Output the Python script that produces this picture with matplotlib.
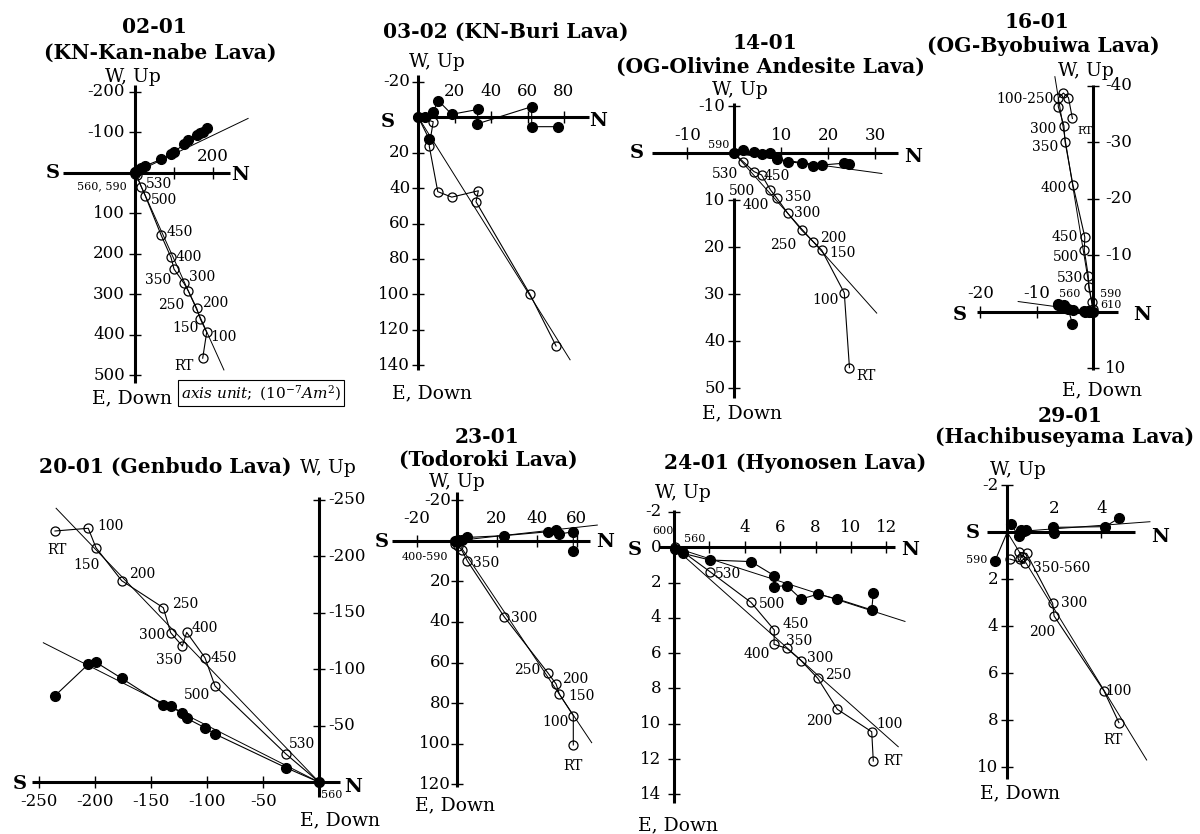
import matplotlib
matplotlib.use('Agg')
import matplotlib.pyplot as plt

plt.rcParams['font.family'] = 'DejaVu Serif'
plt.rcParams['mathtext.fontset'] = 'dejavuserif'

W, H = 1200, 834
PT = 0.72  # points per pixel at dpi 100

# ---------------- data (N component, vertical / horizontal component) ----------------
# 02-01 (KN-Kan-nabe Lava)
s0201_temps = ['RT', '100', '150', '200', '250', '300', '350', '400', '450', '500', '530', '560', '590']
s0201_n = [173.6, 183.8, 167.4, 158.2, 136.7, 125.6, 100, 92.3, 67.4, 26.4, 16.2, 4, 1]
s0201_down = [458, 394, 361, 335, 292, 273, 238, 209, 155, 57, 35, 6, 2]
s0201_east = [-101, -110, -97, -93, -80, -71, -50, -46, -33, -17, -11, -4, -1]
s0201_labels = ['RT', '100', '150', '200', '250', '300', '350', '400', '450', '500', '530', '560, 590', '']
s0201_fit_open = [228, 487]
s0201_fit_closed = [290, -134]

# 03-02 (KN-Buri Lava)
s0302_open_n = [75.7, 61.4, 31.7, 33.0, 18.4, 10.7, 6.0, 8.2, 0]
s0302_down = [129.2, 100.1, 47.7, 41.5, 45.1, 42.0, 16.2, 2.5, 0]
s0302_closed_n = [76.9, 62.3, 62.3, 32.1, 33.0, 18.4, 11.0, 8.2, 3.7, 0, 6.0]
s0302_east = [5.3, 5.3, -6.0, 3.8, -4.5, -1.7, -9.4, -3.2, -0.3, 0, 12.4]
s0302_fit_open = [83.4, 137]

# 14-01 (OG-Olivine Andesite Lava)
s1401_temps = ['RT', '100', '150', '200', '250', '300', '350', '400', '450', '500', '530', '590']
s1401_n = [24.5, 23.4, 18.6, 16.8, 14.3, 11.4, 9.1, 7.7, 5.8, 4.2, 1.9, 0]
s1401_down = [45.6, 29.7, 20.6, 18.8, 16.3, 12.8, 9.6, 7.8, 4.6, 3.9, 1.8, 0]
s1401_east = [2.3, 2.1, 2.5, 2.6, 2.1, 1.8, 1.3, -0.1, 0.15, -0.2, -0.7, 0]
s1401_fit_open = [30.3, 34]
s1401_fit_closed = [31.4, 4.3]

# 16-01 (OG-Byobuiwa Lava)
s1601_temps = ['RT', '100', '150', '200', '250', '300', '350', '400', '450', '500', '530', '560', '590', '610']
s1601_n = [-3.7, -4.4, -5.3, -6.2, -6.2, -5.2, -5.0, -3.6, -1.5, -1.6, -0.9, -0.8, -0.3, 0]
s1601_down = [-34.2, -37.9, -38.7, -37.8, -36.3, -32.9, -30.1, -22.4, -13.2, -10.9, -6.4, -4.3, -1.8, -0.5]
s1601_east = [2.2, -0.4, -0.9, -1.2, -1.3, -1.2, -0.9, -0.3, 0.0, -0.1, -0.1, 0.0, 0.0, 0.0]
s1601_labels = ['RT', '', '', '100-250', '', '300', '350', '400', '450', '500', '530', '560', '590', '610']
s1601_fit_open = [-6.8, -41.6]
s1601_fit_closed = [-13.3, -1.8]

# 20-01 (Genbudo Lava)
s2001_temps = ['RT', '100', '150', '200', '250', '300', '350', '400', '450', '500', '530', '560']
s2001_n = [-236, -206.3, -199.4, -176.4, -139.3, -132.7, -122.3, -118.4, -102.1, -93.1, -29.7, 0]
s2001_down = [-222.4, -224.8, -207.6, -178.4, -154.5, -132.4, -120.6, -132.7, -110.3, -85.2, -25.0, 0]
s2001_east = [-76.6, -104.4, -106.2, -92, -68.4, -67.5, -61.6, -56.6, -48.3, -42.7, -12.9, 0]
s2001_fit_open = [-235, -242.5]
s2001_fit_closed = [-246.4, -123.5]

# 23-01 (Todoroki Lava)
s2301_temps = ['RT', '100', '150', '200', '250', '300', '350', '400', '450', '500', '530', '560', '590']
s2301_n = [58.3, 58.3, 51.3, 49.7, 45.5, 23.7, 5.3, 2.5, 0.5, -1.0, -0.5, 0.0, 0.0]
s2301_down = [100.6, 86.2, 75.5, 70.6, 65.0, 37.4, 9.9, 4.6, 2.5, 1.5, 0.5, 0.3, 0.0]
s2301_east = [4.9, -4.4, -3.3, -5.3, -4.4, -2.5, -1.6, -0.5, -0.3, 0.2, 0.0, 0.0, 0.0]
s2301_labels = ['RT', '100', '150', '200', '250', '300', '350', '', '', '', '', '', '400-590']
s2301_fit_open = [67.5, 99.5]
s2301_fit_closed = [70.3, -7.7]

# 24-01 (Hyonosen Lava)
s2401_temps = ['RT', '100', '200', '250', '300', '350', '400', '450', '500', '530', '560', '600']
s2401_n = [11.26, 11.17, 9.23, 8.12, 7.18, 6.37, 5.65, 5.67, 4.35, 2.03, 0.49, 0.05]
s2401_down = [12.11, 10.45, 9.18, 7.42, 6.42, 5.72, 5.50, 4.69, 3.12, 1.38, 0.25, 0.0]
s2401_east = [2.61, 3.55, 2.93, 2.66, 2.93, 2.17, 2.23, 1.61, 0.81, 0.72, 0.34, 0.1]
s2401_fit_open = [12.67, 11.3]
s2401_fit_closed = [13.05, 4.2]

# 29-01 (Hachibuseyama Lava)
s2901_open_n = [4.75, 4.11, 1.99, 1.93, 0.82, 0.51, 0.61, 0.54, 0.75, 0.11]
s2901_down = [8.1, 6.74, 3.56, 3.02, 0.9, 0.85, 1.04, 1.15, 1.32, 1.14]
s2901_open_labels = ['RT', '100', '200', '300', '', '', '', '', '350-560', '']
s2901_closed_n = [4.75, 4.16, 1.96, 1.99, 0.8, 0.6, 0.7, 0.5, 0.14, -0.52]
s2901_east = [-0.6, -0.24, -0.21, 0.05, -0.09, -0.1, -0.05, 0.15, -0.34, 1.21]
s2901_closed_labels = ['', '', '', '', '', '', '', '', '', '590']
s2901_fit_open = [5.93, 9.69]
s2901_fit_closed = [6.07, -0.45]

# ---------------- layout (pixel positions) ----------------
panels = [
    dict(ox=135, oy=172.7, sx=0.39, sy=0.405, xlim=(-185, 244), yseg=[(-216, 519)],
         xticks=[100, 200], xticklabels=['', '200'], xdy=-16,
         yticks=[-200, -100, 100, 200, 300, 400, 500],
         yticklabels=['-200', '-100', '100', '200', '300', '400', '500'], ydx=-10,
         on=s0201_n, od=s0201_down, cn=s0201_n, ce=s0201_east,
         olab=s0201_labels,
         ooff=[(-19, 8), (17, 5), (-15, 9), (18, -5), (-17, 14), (18, -6), (-16, 11), (18, 0),
               (18, -3), (19, 4), (18, -3), (-35, 11), None],
         clab=None, coff=None, small_rt=False,
         fits=[s0201_fit_open, s0201_fit_closed]),
    dict(ox=418.3, oy=117.3, sx=1.82, sy=1.77, xlim=(-3, 94), yseg=[(-24, 143)],
         xticks=[20, 40, 60, 80], xticklabels=['20', '40', '60', '80'], xdy=-26,
         yticks=[-20, 20, 40, 60, 80, 100, 120, 140],
         yticklabels=['-20', '20', '40', '60', '80', '100', '120', '140'], ydx=-8,
         on=s0302_open_n, od=s0302_down, cn=s0302_closed_n, ce=s0302_east,
         olab=None, ooff=None, clab=None, coff=None, small_rt=False,
         fits=[s0302_fit_open]),
    dict(ox=734.3, oy=153.3, sx=4.7, sy=4.7, xlim=(-17.6, 34.8), yseg=[(-10.8, 0), (9.5, 52)],
         xticks=[-10, 10, 20, 30], xticklabels=['-10', '10', '20', '30'], xdy=-18,
         yticks=[-10, 10, 20, 30, 40, 50],
         yticklabels=['-10', '10', '20', '30', '40', '50'], ydx=-9,
         on=s1401_n, od=s1401_down, cn=s1401_n, ce=s1401_east,
         olab=s1401_temps,
         ooff=[(17, 8), (-19, 7), (21, 3), (20, -4), (-18, 15), (19, 0), (21, -1), (-15, 15),
               (15, 1), (-12, 19), (-18, 12), (-16, -8)],
         clab=None, coff=None, small_rt=False,
         fits=[s1401_fit_open, s1401_fit_closed]),
    dict(ox=1093.3, oy=311.7, sx=5.65, sy=5.65, xlim=(-20.6, 4.4), yseg=[(-40.1, 10.3)],
         xticks=[-20, -10], xticklabels=['-20', '-10'], xdy=-18,
         yticks=[-40, -30, -20, -10, 10],
         yticklabels=['-40', '-30', '-20', '-10', '10'], ydx=12,
         on=s1601_n, od=s1601_down, cn=s1601_n, ce=s1601_east,
         olab=s1601_labels,
         ooff=[(13, 13), None, None, (-5, 1), None, (-21, 3), (-20, 5), (-19, 3), (-20, 0),
               (-18, 7), (-18, 2), (-19, 7), (19, -8), (18, -4)],
         clab=None, coff=None, small_rt=True,
         fits=[s1601_fit_open, s1601_fit_closed]),
    dict(ox=319.3, oy=782.3, sx=1.12, sy=1.13, xlim=(-256.8, 18.5), yseg=[(-252.7, 12.7)],
         xticks=[-250, -200, -150, -100, -50],
         xticklabels=['-250', '-200', '-150', '-100', '-50'], xdy=19,
         yticks=[-250, -200, -150, -100, -50],
         yticklabels=['-250', '-200', '-150', '-100', '-50'], ydx=9,
         on=s2001_n, od=s2001_down, cn=s2001_n, ce=s2001_east,
         olab=s2001_temps,
         ooff=[(2, 19), (22, -2), (-9, 17), (20, -7), (22, -4), (-19, 2), (-13, 14), (18, -4),
               (19, 0), (-18, 9), (16, -10), (12, 13)],
         clab=None, coff=None, small_rt=False,
         fits=[s2001_fit_open, s2001_fit_closed]),
    dict(ox=456.7, oy=540.7, sx=2.0, sy=2.03, xlim=(-32.5, 66.7), yseg=[(-24.1, 121.2)],
         xticks=[-20, 20, 40, 60], xticklabels=['-20', '20', '40', '60'], xdy=-22,
         yticks=[-20, 20, 40, 60, 80, 100, 120],
         yticklabels=['-20', '20', '40', '60', '80', '100', '120'], ydx=-6,
         on=s2301_n, od=s2301_down, cn=s2301_n, ce=s2301_east,
         olab=s2301_labels,
         ooff=[(0, 21), (-18, 6), (22, 2), (19, -5), (-21, -3), (20, 1), (19, 2), None, None,
               None, None, None, (-32, 16)],
         clab=None, coff=None, small_rt=False,
         fits=[s2301_fit_open, s2301_fit_closed]),
    dict(ox=674, oy=547.3, sx=17.7, sy=17.65, xlim=(-0.85, 12.5), yseg=[(-2.1, 14.5)],
         xticks=[2, 4, 6, 8, 10, 12], xticklabels=['', '4', '6', '8', '10', '12'], xdy=-20,
         yticks=[-2, 0, 2, 4, 6, 8, 10, 12, 14],
         yticklabels=['-2', '0', '2', '4', '6', '8', '10', '12', '14'], ydx=-13,
         on=s2401_n, od=s2401_down, cn=s2401_n, ce=s2401_east,
         olab=s2401_temps,
         ooff=[(20, 0), (18, -8), (-18, 12), (20, -3), (19, -3), (12, -7), (-17, 10), (21, -6),
               (21, 2), (18, 2), (12, -13), (-12, -16)],
         clab=None, coff=None, small_rt=False,
         fits=[s2401_fit_open, s2401_fit_closed]),
    dict(ox=1007.3, oy=532.3, sx=23.5, sy=23.5, xlim=(-0.88, 5.43), yseg=[(-2.0, 10.5)],
         xticks=[2, 4], xticklabels=['2', '4'], xdy=-24,
         yticks=[-2, 2, 4, 6, 8, 10],
         yticklabels=['-2', '2', '4', '6', '8', '10'], ydx=-9,
         on=s2901_open_n, od=s2901_down, cn=s2901_closed_n, ce=s2901_east,
         olab=s2901_open_labels,
         ooff=[(-6, 17), (15, 0), (-12, 16), (21, 0), None, None, None, None, (37, 5), None],
         clab=s2901_closed_labels,
         coff=[None] * 9 + [(-18, -1)], small_rt=False,
         fits=[s2901_fit_open, s2901_fit_closed]),
]

small = {'560, 590', '590', '600', '560', '610', '400-590'}

TS, AS = 14.6, 13.5   # title size, axis-name size
# (text, x px, y px, size, weight)
texts = [
    ('02-01', 154, 27, TS, 'bold'), ('(KN-Kan-nabe Lava)', 160, 53, TS, 'bold'),
    ('W, Up', 133, 77, AS, 'normal'), ('S', 53, 173, 14, 'bold'), ('N', 240, 175, 14, 'bold'),
    ('E, Down', 132, 398, AS, 'normal'),
    ('03-02 (KN-Buri Lava)', 506, 32, TS, 'bold'),
    ('W, Up', 437, 62, AS, 'normal'), ('S', 388, 122, 14, 'bold'), ('N', 598, 121, 14, 'bold'),
    ('E, Down', 432, 393, AS, 'normal'),
    ('14-01', 765, 43, TS, 'bold'), ('(OG-Olivine Andesite Lava)', 770, 67, TS, 'bold'),
    ('W, Up', 740, 90, AS, 'normal'), ('S', 637, 153, 14, 'bold'), ('N', 913, 157, 14, 'bold'),
    ('E, Down', 742, 413, AS, 'normal'),
    ('16-01', 1037, 22, TS, 'bold'), ('(OG-Byobuiwa Lava)', 1043, 46, TS, 'bold'),
    ('W, Up', 1086, 71, AS, 'normal'), ('S', 960, 315, 14, 'bold'), ('N', 1142, 315, 14, 'bold'),
    ('E, Down', 1102, 390, AS, 'normal'),
    ('20-01 (Genbudo Lava)', 165, 467, TS, 'bold'),
    ('W, Up', 328, 468, AS, 'normal'), ('S', 20, 784, 14, 'bold'), ('N', 353, 787, 14, 'bold'),
    ('E, Down', 340, 820, AS, 'normal'),
    ('23-01', 487, 437, TS, 'bold'), ('(Todoroki Lava)', 488, 460, TS, 'bold'),
    ('W, Up', 457, 482, AS, 'normal'), ('S', 382, 542, 14, 'bold'), ('N', 605, 542, 14, 'bold'),
    ('E, Down', 455, 805, AS, 'normal'),
    ('24-01 (Hyonosen Lava)', 795, 463, TS, 'bold'),
    ('W, Up', 683, 493, AS, 'normal'), ('S', 635, 550, 14, 'bold'), ('N', 910, 550, 14, 'bold'),
    ('E, Down', 678, 825, AS, 'normal'),
    ('29-01', 1070, 416, TS, 'bold'), ('(Hachibuseyama Lava)', 1065, 437, TS, 'bold'),
    ('W, Up', 1018, 470, AS, 'normal'), ('S', 973, 533, 14, 'bold'), ('N', 1160, 537, 14, 'bold'),
    ('E, Down', 1020, 793, AS, 'normal'),
]


def annotate_points(ax, xs, ys, labels, offsets, small_rt):
    if labels is None:
        return
    for x, y, s, off in zip(xs, ys, labels, offsets):
        if not s or off is None:
            continue
        ha = 'right' if s == '100-250' else 'center'
        fs = 8 if (s in small or (s == 'RT' and small_rt)) else 10
        ax.annotate(s, (x, y), xytext=(off[0] * PT, -off[1] * PT), textcoords='offset points',
                    ha=ha, va='center', fontsize=fs, annotation_clip=False)


def draw_panel(fig, p):
    x0, x1 = p['xlim']
    y0 = min(a for a, b in p['yseg'])
    y1 = max(b for a, b in p['yseg'])
    left = p['ox'] + x0 * p['sx']
    right = p['ox'] + x1 * p['sx']
    top = p['oy'] + y0 * p['sy']
    bottom = p['oy'] + y1 * p['sy']
    ax = fig.add_axes([left / W, 1 - bottom / H, (right - left) / W, (bottom - top) / H])
    ax.set_xlim(x0, x1)
    ax.set_ylim(y1, y0)
    ax.axis('off')

    # axes crossing at the origin
    ax.plot([x0, x1], [0, 0], color='k', lw=2.2, solid_capstyle='butt', clip_on=False)
    for a, b in p['yseg']:
        ax.plot([0, 0], [a, b], color='k', lw=2.2, solid_capstyle='butt', clip_on=False)
    ax.plot(p['xticks'], [0] * len(p['xticks']), ls='none', marker='|', ms=8, mew=1,
            color='k', clip_on=False)
    ax.plot([0] * len(p['yticks']), p['yticks'], ls='none', marker='_', ms=8, mew=1,
            color='k', clip_on=False)
    for v, s in zip(p['xticks'], p['xticklabels']):
        ax.annotate(s, (v, 0), xytext=(0, -p['xdy'] * PT), textcoords='offset points',
                    ha='center', va='center', fontsize=12, annotation_clip=False)
    for v, s in zip(p['yticks'], p['yticklabels']):
        ax.annotate(s, (0, v), xytext=(p['ydx'] * PT, 0), textcoords='offset points',
                    ha='right' if p['ydx'] < 0 else 'left', va='center', fontsize=12,
                    annotation_clip=False)

    # fitted directions
    for fx, fy in p['fits']:
        ax.plot([0, fx], [0, fy], color='k', lw=0.7, clip_on=False)

    # horizontal projection (closed) and vertical projection (open)
    ax.plot(p['cn'], p['ce'], '-', color='k', lw=0.8, marker='o', ms=7, mfc='k', mec='k',
            clip_on=False, zorder=3)
    ax.plot(p['on'], p['od'], '-', color='k', lw=0.8, marker='o', ms=6.5, mfc='none',
            mec='k', mew=0.9, clip_on=False, zorder=4)

    annotate_points(ax, p['on'], p['od'], p['olab'], p['ooff'], p['small_rt'])
    annotate_points(ax, p['cn'], p['ce'], p['clab'], p['coff'], p['small_rt'])
    return ax


fig = plt.figure(figsize=(W / 100, H / 100), dpi=100)

for p in panels:
    draw_panel(fig, p)

for s, x, y, size, weight in texts:
    fig.text(x / W, 1 - y / H, s, ha='center', va='center', fontsize=size, fontweight=weight)

fig.text(261 / W, 1 - 393 / H, r'$axis\ unit;\ (10^{-7}Am^2)$', ha='center', va='center',
         fontsize=11, bbox=dict(boxstyle='square,pad=0.2', fc='white', ec='k', lw=0.8))

fig.savefig('out.png', dpi=100)
